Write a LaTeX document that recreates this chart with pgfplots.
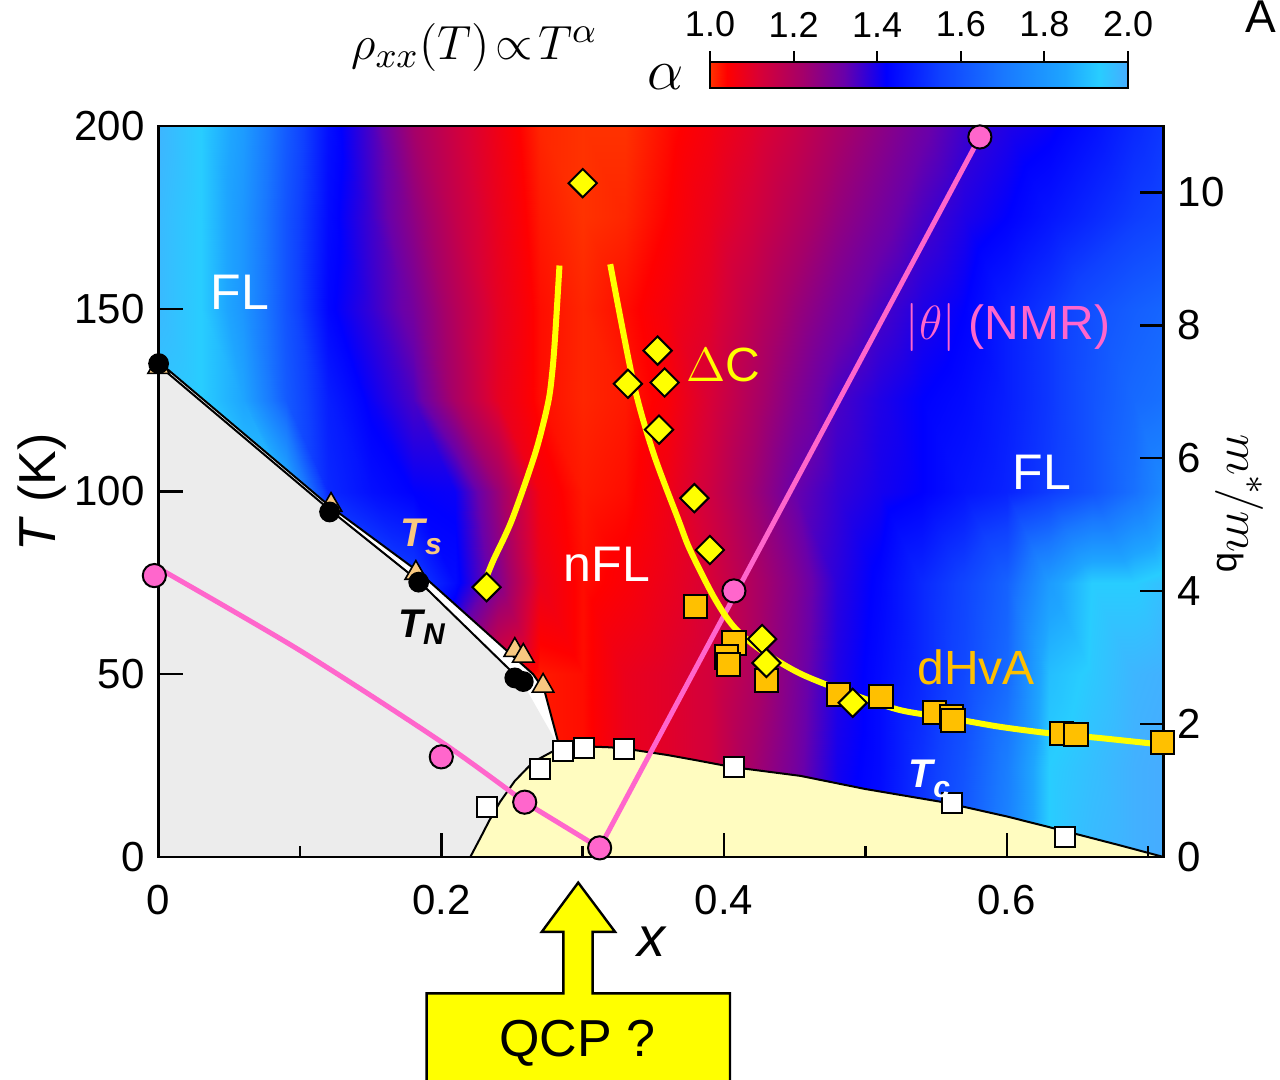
\documentclass[border=0pt]{standalone}
\usepackage{fontspec}
\setmainfont{Liberation Sans}
\usepackage{pgfplots}
\pgfplotsset{compat=1.18}

\definecolor{nmrpink}{RGB}{255,102,204}
\definecolor{dhvaorange}{RGB}{255,192,0}
\definecolor{tstan}{RGB}{248,200,128}
\definecolor{afmgrey}{RGB}{236,236,236}
\definecolor{scyellow}{RGB}{255,252,192}
\definecolor{qcpyellow}{RGB}{255,255,0}

% colour scale for the resistivity exponent alpha (1.0 ... 2.0)
\pgfplotsset{
  colormap={alphamap}{[1pt]
    rgb255(0pt)=(255,50,0);
    rgb255(4pt)=(255,0,0);
    rgb255(12pt)=(215,0,55);
    rgb255(22pt)=(165,0,105);
    rgb255(32pt)=(105,0,170);
    rgb255(42pt)=(0,0,255);
    rgb255(55pt)=(15,65,255);
    rgb255(70pt)=(25,120,255);
    rgb255(85pt)=(30,165,255);
    rgb255(93pt)=(40,205,255);
    rgb255(100pt)=(70,172,255)
  }
}

\begin{document}
\begin{tikzpicture}
\path[use as bounding box] (-39.65pt,-55.5pt) rectangle (280.35pt,214.25pt);

% ---------------- temperature axis (left) ----------------
\begin{axis}[
  at={(0pt,0pt)}, anchor=south west,
  scale only axis, width=251.25pt, height=182.75pt,
  xmin=0, xmax=0.711, ymin=0, ymax=200,
  clip=false, axis on top,
  colormap name=alphamap,
  point meta min=1, point meta max=2,
  xtick={0,0.2,0.4,0.6}, xticklabels={0,0.2,0.4,0.6},
  minor xtick={0.1,0.3,0.5,0.7},
  ytick={0,50,100,150,200},
  xtick pos=left, ytick pos=left,
  tick align=inside,
  major tick length=6pt, minor tick length=2.75pt,
  tick style={black, line width=0.6pt},
  axis line style={line width=0.7pt},
  /pgf/number format/assume math mode=true,
  tick label style={font=\fontsize{10.5}{12}\selectfont},
  xticklabel style={yshift=-3.5pt},
]
% exponent alpha on a (x, T) grid
\addplot[surf, shader=interp, mesh/cols=25, mesh/rows=9, point meta=explicit]
  table[x=x, y=T, meta=a] {
x T a
0 0 1.90
0.03 0 1.85
0.06 0 1.75
0.09 0 1.65
0.12 0 1.55
0.15 0 1.50
0.18 0 1.40
0.21 0 1.20
0.24 0 1.06
0.27 0 1.02
0.30 0 1.03
0.33 0 1.08
0.36 0 1.10
0.39 0 1.13
0.42 0 1.22
0.45 0 1.30
0.48 0 1.40
0.51 0 1.45
0.54 0 1.53
0.57 0 1.62
0.60 0 1.74
0.63 0 1.93
0.66 0 1.97
0.69 0 1.99
0.711 0 2.00
0 25 1.90
0.03 25 1.85
0.06 25 1.75
0.09 25 1.65
0.12 25 1.55
0.15 25 1.50
0.18 25 1.40
0.21 25 1.20
0.24 25 1.06
0.27 25 1.02
0.30 25 1.03
0.33 25 1.08
0.36 25 1.10
0.39 25 1.13
0.42 25 1.22
0.45 25 1.30
0.48 25 1.40
0.51 25 1.44
0.54 25 1.52
0.57 25 1.60
0.60 25 1.72
0.63 25 1.93
0.66 25 1.96
0.69 25 1.99
0.711 25 2.00
0 50 1.90
0.03 50 1.85
0.06 50 1.75
0.09 50 1.65
0.12 50 1.55
0.15 50 1.50
0.18 50 1.45
0.21 50 1.30
0.24 50 1.10
0.27 50 1.02
0.30 50 1.03
0.33 50 1.08
0.36 50 1.10
0.39 50 1.13
0.42 50 1.20
0.45 50 1.29
0.48 50 1.39
0.51 50 1.44
0.54 50 1.50
0.57 50 1.57
0.60 50 1.66
0.63 50 1.90
0.66 50 1.94
0.69 50 1.98
0.711 50 1.99
0 75 1.93
0.03 75 1.90
0.06 75 1.85
0.09 75 1.75
0.12 75 1.65
0.15 75 1.60
0.18 75 1.55
0.21 75 1.44
0.24 75 1.28
0.27 75 1.08
0.30 75 1.03
0.33 75 1.05
0.36 75 1.08
0.39 75 1.12
0.42 75 1.20
0.45 75 1.28
0.48 75 1.38
0.51 75 1.43
0.54 75 1.50
0.57 75 1.56
0.60 75 1.64
0.63 75 1.82
0.66 75 1.93
0.69 75 1.93
0.711 75 1.96
0 100 1.95
0.03 100 1.95
0.06 100 1.93
0.09 100 1.90
0.12 100 1.50
0.15 100 1.45
0.18 100 1.42
0.21 100 1.41
0.24 100 1.24
0.27 100 1.06
0.30 100 1.02
0.33 100 1.03
0.36 100 1.07
0.39 100 1.14
0.42 100 1.23
0.45 100 1.32
0.48 100 1.37
0.51 100 1.40
0.54 100 1.42
0.57 100 1.46
0.60 100 1.49
0.63 100 1.54
0.66 100 1.60
0.69 100 1.68
0.711 100 1.76
0 125 1.95
0.03 125 1.93
0.06 125 1.85
0.09 125 1.62
0.12 125 1.48
0.15 125 1.41
0.18 125 1.35
0.21 125 1.21
0.24 125 1.09
0.27 125 1.03
0.30 125 1.01
0.33 125 1.02
0.36 125 1.05
0.39 125 1.12
0.42 125 1.20
0.45 125 1.28
0.48 125 1.35
0.51 125 1.39
0.54 125 1.42
0.57 125 1.44
0.60 125 1.48
0.63 125 1.53
0.66 125 1.60
0.69 125 1.66
0.711 125 1.68
0 150 1.97
0.03 150 1.93
0.06 150 1.80
0.09 150 1.60
0.12 150 1.43
0.15 150 1.37
0.18 150 1.30
0.21 150 1.19
0.24 150 1.09
0.27 150 1.03
0.30 150 1.01
0.33 150 1.03
0.36 150 1.06
0.39 150 1.10
0.42 150 1.17
0.45 150 1.24
0.48 150 1.30
0.51 150 1.35
0.54 150 1.39
0.57 150 1.42
0.60 150 1.48
0.63 150 1.53
0.66 150 1.59
0.69 150 1.63
0.711 150 1.65
0 175 1.97
0.03 175 1.93
0.06 175 1.80
0.09 175 1.60
0.12 175 1.44
0.15 175 1.36
0.18 175 1.26
0.21 175 1.16
0.24 175 1.08
0.27 175 1.02
0.30 175 1.00
0.33 175 1.01
0.36 175 1.04
0.39 175 1.08
0.42 175 1.13
0.45 175 1.19
0.48 175 1.25
0.51 175 1.30
0.54 175 1.35
0.57 175 1.39
0.60 175 1.42
0.63 175 1.46
0.66 175 1.50
0.69 175 1.54
0.711 175 1.56
0 200 1.98
0.03 200 1.93
0.06 200 1.82
0.09 200 1.62
0.12 200 1.45
0.15 200 1.35
0.18 200 1.22
0.21 200 1.14
0.24 200 1.07
0.27 200 1.01
0.30 200 1.00
0.33 200 1.00
0.36 200 1.03
0.39 200 1.06
0.42 200 1.10
0.45 200 1.15
0.48 200 1.21
0.51 200 1.26
0.54 200 1.31
0.57 200 1.36
0.60 200 1.39
0.63 200 1.41
0.66 200 1.45
0.69 200 1.50
0.711 200 1.53
};

% structural (T_s) and antiferromagnetic (T_N) regions
\addplot[fill=white, draw=none] coordinates {
  (0,0) (0,135.5) (0.121,96) (0.184,78) (0.265,50) (0.273,45.5) (0.283,31) (0.283,0)} -- cycle;
\addplot[fill=afmgrey, draw=none] coordinates {
  (0,0) (0,134.5) (0.121,95) (0.184,75.5) (0.257,48) (0.282,31) (0.282,0)} -- cycle;
% superconducting dome
\addplot[fill=scyellow, draw=none] coordinates {
  (0.2205,0) (0.228,5.5) (0.234,10) (0.2416,15.1) (0.252,20.8) (0.265,26)
  (0.2817,29.5) (0.30,30.3) (0.32,30.0) (0.336,29.3) (0.36,27.9) (0.38,26.5)
  (0.406,24.6) (0.454,22.2) (0.50,18.6) (0.555,15.0) (0.60,11.1) (0.64,7.2)
  (0.68,3.2) (0.711,0)} -- cycle;
\addplot[black, line width=0.5pt, mark=none] coordinates {
  (0.2205,0) (0.228,5.5) (0.234,10) (0.2416,15.1) (0.252,20.8) (0.265,26)
  (0.2817,29.5) (0.30,30.3) (0.32,30.0) (0.336,29.3) (0.36,27.9) (0.38,26.5)
  (0.406,24.6) (0.454,22.2) (0.50,18.6) (0.555,15.0) (0.60,11.1) (0.64,7.2)
  (0.68,3.2) (0.711,0)};
\addplot[black, line width=0.5pt, mark=none] coordinates {
  (0,135.5) (0.121,96) (0.184,78) (0.265,50) (0.273,45.5) (0.283,31)};
\addplot[black, line width=0.5pt, mark=none] coordinates {
  (0,134.5) (0.121,95) (0.184,75.5) (0.257,48)};

% NMR angle |theta|
\addplot[nmrpink, line width=1.25pt, mark=none, smooth] coordinates {
  (0,79) (0.1,56.5) (0.2,31.5) (0.259,15)};
\addplot[nmrpink, line width=1.25pt, mark=none] coordinates {
  (0.259,15) (0.312,2.5) (0.581,197)};

% T_s (triangles) and T_N (circles)
\addplot[only marks, mark=triangle*, mark size=3.1pt,
  mark options={fill=tstan, draw=black, line width=0.4pt}] coordinates {
  (0,134) (0.122,96.3) (0.182,77.7) (0.252,56.6) (0.258,55) (0.272,46.8)};
\addplot[only marks, mark=*, mark size=2.4pt,
  mark options={fill=black, draw=black}] coordinates {
  (0,135) (0.121,94.4) (0.184,75.2) (0.252,49) (0.258,48)};
% T_c
\addplot[only marks, mark=square*, mark size=2.5pt,
  mark options={fill=white, draw=black, line width=0.5pt}] coordinates {
  (0.232,13.7) (0.270,24) (0.286,29) (0.301,29.8) (0.329,29.5) (0.407,24.6)
  (0.561,14.8) (0.641,5.5)};
\addplot[only marks, mark=*, mark size=2.9pt,
  mark options={fill=nmrpink, draw=black, line width=0.5pt}] coordinates {
  (-0.003,77) (0.2,27.4) (0.259,15) (0.312,2.5) (0.407,72.8) (0.581,197)};
\end{axis}

% ---------------- effective mass axis (right) ----------------
\begin{axis}[
  at={(0pt,0pt)}, anchor=south west,
  scale only axis, width=251.25pt, height=182.75pt,
  xmin=0, xmax=0.711, ymin=0, ymax=11,
  clip=false,
  hide x axis, axis y line*=right,
  ytick={0,2,4,6,8,10},
  ytick align=inside,
  major tick length=6pt,
  tick style={black, line width=0.6pt},
  axis line style={line width=0.7pt},
  /pgf/number format/assume math mode=true,
  tick label style={font=\fontsize{10.5}{12}\selectfont},
]
% dHvA masses
\addplot[only marks, mark=square*, mark size=2.9pt,
  mark options={fill=dhvaorange, draw=black, line width=0.5pt}] coordinates {
  (0.380,3.77) (0.407,3.22) (0.402,3.01) (0.403,2.90) (0.430,2.66) (0.481,2.44)
  (0.511,2.41) (0.549,2.18) (0.561,2.12) (0.562,2.05) (0.639,1.86) (0.649,1.84)
  (0.710,1.72)};
% guides to the eye
\addplot[qcpyellow, line width=1.5pt, mark=none, smooth] coordinates {
  (0.2836,8.90) (0.2805,7.83) (0.2785,7.30) (0.2755,6.83) (0.2665,6.08)
  (0.2499,5.07) (0.2365,4.45) (0.2290,4.05)};
\addplot[qcpyellow, line width=1.5pt, mark=none, smooth] coordinates {
  (0.3195,8.92) (0.336,7.13) (0.350,6.08) (0.3678,5.07) (0.376,4.62)
  (0.3926,3.92) (0.4067,3.47) (0.4256,3.12) (0.4539,2.76) (0.4893,2.46)
  (0.5247,2.21) (0.560,2.09) (0.595,1.96) (0.631,1.86) (0.666,1.79) (0.706,1.70)};
% specific heat jump
\addplot[only marks, mark=square*, mark size=2.5pt,
  mark options={rotate=45, fill=qcpyellow, draw=black, line width=0.5pt}] coordinates {
  (0.300,10.14) (0.353,7.62) (0.332,7.12) (0.358,7.14) (0.354,6.43) (0.379,5.40)
  (0.390,4.62) (0.232,4.06) (0.427,3.28) (0.430,2.92) (0.491,2.32)};
\end{axis}

% ---------------- colour scale of alpha ----------------
\begin{axis}[
  at={(137.85pt,192.25pt)}, anchor=south west,
  scale only axis, width=104.5pt, height=6.5pt,
  xmin=1, xmax=2, ymin=0, ymax=1,
  colormap name=alphamap,
  point meta min=1, point meta max=2,
  axis on top,
  xtick={1,1.2,1.4,1.6,1.8,2},
  xticklabels={1.0,1.2,1.4,1.6,1.8,2.0},
  xtick pos=right, xticklabel pos=right,
  ytick=\empty,
  tick align=outside, major tick length=2.7pt,
  tick style={black, line width=0.5pt},
  axis line style={line width=0.6pt},
  tick label style={font=\fontsize{9}{10}\selectfont},
]
\addplot[surf, shader=interp, mesh/cols=11, mesh/rows=2, point meta=explicit]
  table[x=a, y=y, meta=a] {
a y
1.00 0
1.04 0
1.12 0
1.22 0
1.32 0
1.42 0
1.55 0
1.70 0
1.85 0
1.93 0
2.00 0
1.00 1
1.04 1
1.12 1
1.22 1
1.32 1
1.42 1
1.55 1
1.70 1
1.85 1
1.93 1
2.00 1
};
\end{axis}

% ---------------- labels ----------------
\node[anchor=base, text=white, font=\fontsize{12.5}{14}\selectfont] at (20.35pt,136.75pt) {FL};
\node[anchor=base, text=white, font=\fontsize{12.5}{14}\selectfont] at (112.1pt,68.75pt) {nFL};
\node[anchor=base, text=white, font=\fontsize{12.5}{14}\selectfont] at (220.85pt,91.75pt) {FL};
\node[anchor=base, text=qcpyellow, font=\fontsize{12}{14}\selectfont] at (141.1pt,118.75pt) {$\Delta$C};
\node[anchor=base, text=nmrpink, font=\fontsize{12}{14}\selectfont] at (212.35pt,129.25pt) {$|\theta|$ (NMR)};
\node[anchor=base, text=dhvaorange, font=\fontsize{12}{14}\selectfont] at (204.35pt,43.25pt) {dHvA};
\node[anchor=base west, inner sep=0pt, text=tstan, font=\fontsize{10}{12}\selectfont\bfseries\itshape]
  at (60.35pt,77.5pt) {T\raisebox{-2pt}{\fontsize{7.5}{9}\selectfont s}};
\node[anchor=base west, inner sep=0pt, text=black, font=\fontsize{10}{12}\selectfont\bfseries\itshape]
  at (59.85pt,55pt) {T\raisebox{-2pt}{\fontsize{7.5}{9}\selectfont N}};
\node[anchor=base west, inner sep=0pt, text=white, font=\fontsize{10}{12}\selectfont\bfseries\itshape]
  at (187.35pt,17.5pt) {T\raisebox{-2.5pt}{\fontsize{7.5}{9}\selectfont c}};

\node[anchor=base, font=\fontsize{12.5}{14}\selectfont] at (79pt,199.25pt) {$\rho_{xx}(T)\!\propto\! T^{\alpha}$};
\node[anchor=base, font=\fontsize{14}{16}\selectfont] at (126.85pt,191.75pt) {$\alpha$};
\node[anchor=base west, inner sep=0pt, font=\fontsize{11.5}{14}\selectfont] at (271.6pt,206pt) {A};

\node[anchor=base, rotate=90, font=\fontsize{13}{15}\selectfont] at (-25.9pt,91.1pt) {\textit{T} (K)};
\node[anchor=base, font=\fontsize{14}{16}\selectfont\itshape] at (123.3pt,-24.9pt) {x};
\node[anchor=base, rotate=-90, inner sep=0pt, font=\fontsize{13}{16}\selectfont] at (267.3pt,88pt) {$m^{*}\!/m_{\mathrm{b}}$};

% quantum critical point marker
\draw[fill=qcpyellow, line width=0.6pt]
  (95.8pt,-18.7pt) -- (104.9pt,-6.4pt) -- (114.1pt,-18.7pt) -- (108.5pt,-18.7pt)
  -- (108.5pt,-34.1pt) -- (142.85pt,-34.1pt) -- (142.85pt,-57pt) -- (67pt,-57pt)
  -- (67pt,-34.1pt) -- (101.2pt,-34.1pt) -- (101.2pt,-18.7pt) -- cycle;
\node[anchor=base, font=\fontsize{13}{15}\selectfont] at (104.7pt,-49.9pt) {QCP ?};
\end{tikzpicture}
\end{document}
